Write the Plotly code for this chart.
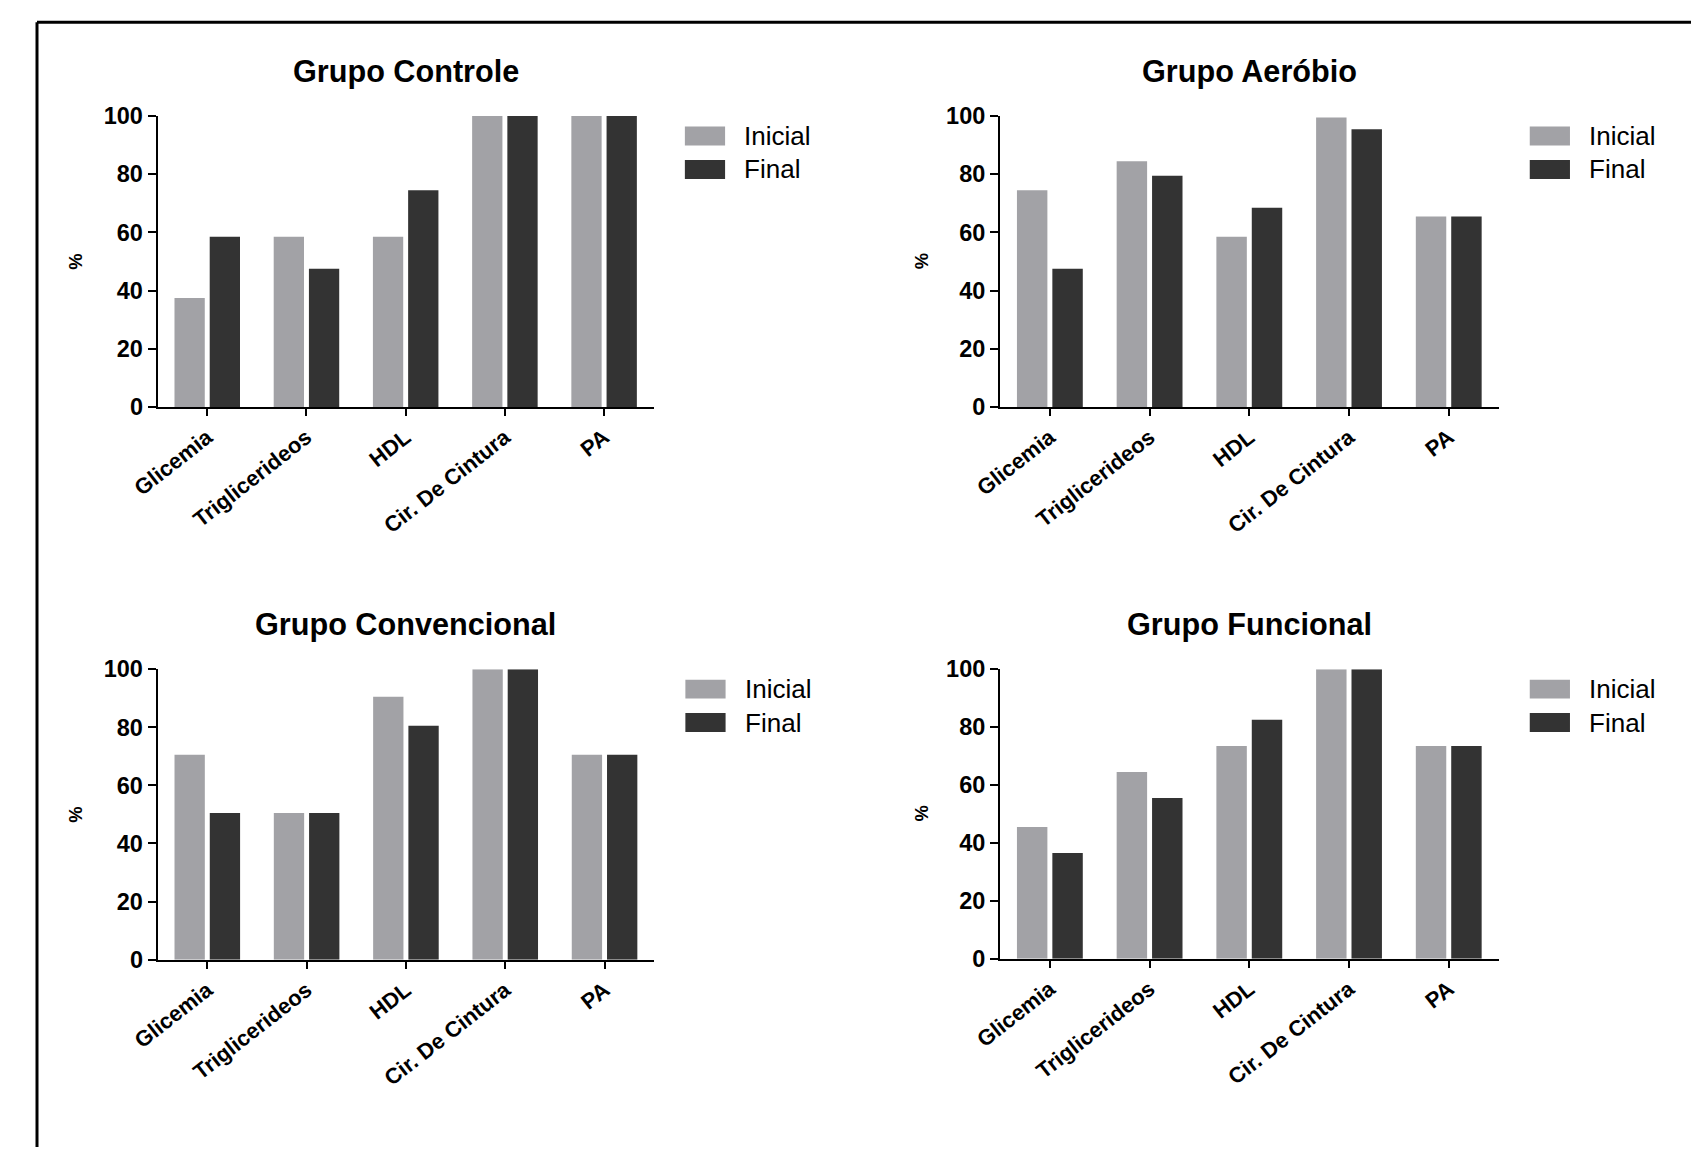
import plotly.graph_objects as go

W, H = 1699, 1152

categories = ["Glicemia", "Triglicerideos", "HDL", "Cir. De Cintura", "PA"]
series_names = ["Inicial", "Final"]
panel_titles = ["Grupo Controle", "Grupo Aeróbio", "Grupo Convencional", "Grupo Funcional"]
y_ticks = [0, 20, 40, 60, 80, 100]
y_axis_label = "%"

controle_inicial = [37.5, 58.5, 58.5, 100, 100]
controle_final = [58.5, 47.5, 74.5, 100, 100]
aerobio_inicial = [74.5, 84.5, 58.5, 99.5, 65.5]
aerobio_final = [47.5, 79.5, 68.5, 95.5, 65.5]
convencional_inicial = [70.5, 50.5, 90.5, 100, 70.5]
convencional_final = [50.5, 50.5, 80.5, 100, 70.5]
funcional_inicial = [45.5, 64.5, 73.5, 100, 73.5]
funcional_final = [36.5, 55.5, 82.5, 100, 73.5]

series_colors = ["#a2a2a6", "#333333"]
FONT = "Liberation Sans, Arial, Helvetica, sans-serif"

panel_data = [
    (controle_inicial, controle_final),
    (aerobio_inicial, aerobio_final),
    (convencional_inicial, convencional_final),
    (funcional_inicial, funcional_final),
]

# target geometry in page pixels: x0, x1, y_bottom, y_top
panels = [
    (161, 654.5, 407.5, 116),
    (999, 1495, 407.5, 116),
    (161, 655, 961, 670),
    (999, 1495, 960, 670),
]
title_y = [71, 71, 625, 625]
ylabel_x = [79, 921]

# the photographed page shows the figure slightly shrunk and shifted;
# compensate so that positions land where intended
SC, OX, OY = 0.979, 39.0, 20.8


def fx(x):
    return (x - OX) / SC / W


def fy(y):
    return 1 - (y - OY) / SC / H


def fs(s):
    return s / SC


fig = go.Figure()
layout = dict(
    width=W, height=H,
    margin=dict(l=0, r=0, t=0, b=0),
    paper_bgcolor="white", plot_bgcolor="white",
    barmode="group", bargap=0.29, bargroupgap=0.14,
    showlegend=False,
    font=dict(family=FONT, color="black"),
)
annotations = []
shapes = []

for i, ((x0, x1, yb, yt), (ini, fin)) in enumerate(zip(panels, panel_data)):
    n = "" if i == 0 else str(i + 1)
    for name, vals, col in zip(series_names, (ini, fin), series_colors):
        fig.add_trace(go.Bar(
            x=categories, y=vals, name=name,
            marker=dict(color=col, line=dict(width=0)),
            xaxis="x" + n, yaxis="y" + n,
        ))
    layout["xaxis" + n] = dict(
        domain=[fx(x0), fx(x1)], anchor="y" + n, type="category",
        range=[-0.5, 4.5], showgrid=False, zeroline=False,
        showline=True, linecolor="black", linewidth=2,
        ticks="outside", ticklen=7, tickwidth=2, tickcolor="black",
        tickangle=-38, tickfont=dict(family=FONT, size=fs(21.5), weight="bold", color="black"),
    )
    layout["yaxis" + n] = dict(
        domain=[fy(yb), fy(yt)], anchor="x" + n,
        range=[0, 100], tickvals=y_ticks, showgrid=False, zeroline=False,
        showline=True, linecolor="black", linewidth=2,
        ticks="outside", ticklen=8, tickwidth=2, tickcolor="black",
        tickfont=dict(family=FONT, size=fs(23), weight="bold", color="black"),
    )
    annotations.append(dict(
        x=fx((x0 + x1) / 2), y=fy(title_y[i]), xref="paper", yref="paper",
        text=panel_titles[i], showarrow=False, xanchor="center", yanchor="middle",
        font=dict(family=FONT, size=fs(30), weight="bold", color="black"),
    ))
    annotations.append(dict(
        x=fx(ylabel_x[i % 2]), y=fy((yb + yt) / 2), xref="paper", yref="paper",
        text=y_axis_label, textangle=-90, showarrow=False,
        xanchor="center", yanchor="middle",
        font=dict(family=FONT, size=fs(18), weight="bold", color="black"),
    ))
    lx = x1 + 31
    for k, (name, col) in enumerate(zip(series_names, series_colors)):
        top = yt + 10.5 + k * 33.5
        shapes.append(dict(
            type="rect", xref="paper", yref="paper",
            x0=fx(lx), x1=fx(lx + 40), y0=fy(top + 19), y1=fy(top),
            fillcolor=col, line=dict(width=0),
        ))
        annotations.append(dict(
            x=fx(lx + 57), y=fy(top + 9.5), xref="paper", yref="paper",
            text=name, showarrow=False, xanchor="left", yanchor="middle",
            font=dict(family=FONT, size=fs(25.5), color="black"),
        ))

# outer frame (top and left edges)
fl = max(fx(13), 0.0012)
ft = min(fy(7), 1 - 0.0012)
shapes.append(dict(type="line", xref="paper", yref="paper",
                   x0=fl, x1=fl, y0=0, y1=ft,
                   line=dict(color="black", width=3)))
shapes.append(dict(type="line", xref="paper", yref="paper",
                   x0=fl, x1=1, y0=ft, y1=ft,
                   line=dict(color="black", width=3)))

layout["annotations"] = annotations
layout["shapes"] = shapes
fig.update_layout(**layout)
fig.write_html("out.html")
